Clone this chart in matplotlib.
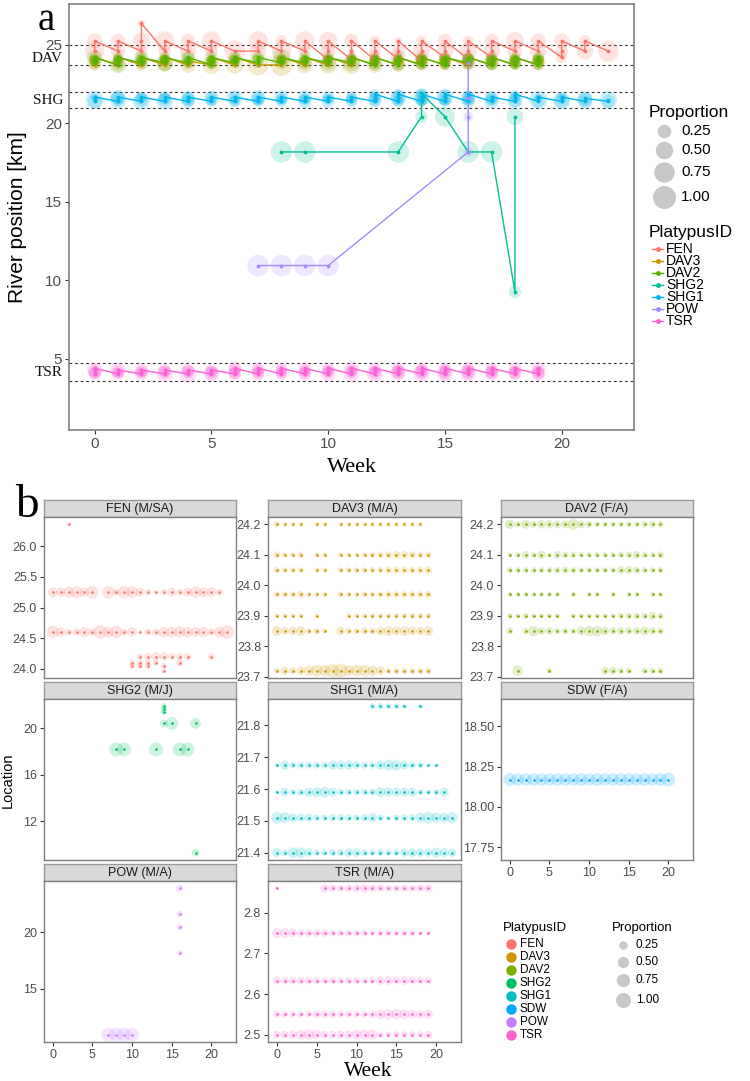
import matplotlib
matplotlib.use("Agg")
import matplotlib.pyplot as plt
import matplotlib.transforms as mtransforms
from matplotlib.lines import Line2D
import numpy as np

plt.rcParams['font.family'] = ['Liberation Sans', 'DejaVu Sans']
SERIF = ['Liberation Serif', 'DejaVu Serif']

# ---------------- data ----------------
ids_a = ["FEN", "DAV3", "DAV2", "SHG2", "SHG1", "POW", "TSR"]
colors_a = ["#F8766D", "#C49A00", "#53B400", "#00C094", "#00B6EB", "#A58AFF", "#FB61D7"]
ids_b = ["FEN", "DAV3", "DAV2", "SHG2", "SHG1", "SDW", "POW", "TSR"]
colors_b = ["#F8766D", "#CD9600", "#7CAE00", "#00BE67", "#00BFC4", "#00A9FF", "#C77CFF", "#FF61CC"]
facet_titles = ["FEN (M/SA)", "DAV3 (M/A)", "DAV2 (F/A)", "SHG2 (M/J)", "SHG1 (M/A)",
                "SDW (F/A)", "POW (M/A)", "TSR (M/A)"]

fen_loc = [26.36, 25.25, 24.60, 24.20, 24.10, 24.05, 23.97]
fen_weeks = [[2],
             [0, 1, 2, 3, 4, 5, 7, 8, 9, 10, 11, 12, 13, 14, 15, 16, 17, 18, 19, 20, 21],
             [0, 1, 2, 3, 4, 5, 6, 7, 8, 9, 10, 11, 12, 13, 14, 15, 16, 17, 18, 19, 20, 21, 22],
             [11, 12, 13, 14, 15, 16, 17, 20],
             [10, 11, 12, 13, 16],
             [10, 11, 12, 14],
             [14]]
fen_prop = [[0.03],
            [0.35, 0.3, 0.5, 0.65, 0.3, 0.65, 0.65, 0.15, 0.65, 0.55, 0.3, 0.12, 0.03, 0.12, 0.3, 0.12, 0.3, 0.55, 0.35, 0.35, 0.15],
            [0.65, 0.35, 0.15, 0.2, 0.45, 0.2, 0.8, 0.45, 0.65, 0.15, 0.35, 0.03, 0.15, 0.2, 0.45, 0.45, 0.5, 0.45, 0.35, 0.45, 0.2, 0.45, 0.8],
            [0.12, 0.2, 0.3, 0.25, 0.15, 0.15, 0.2, 0.15],
            [0.1, 0.1, 0.1, 0.1, 0.15],
            [0.1, 0.1, 0.1, 0.1],
            [0.05]]

dav3_loc = [24.20, 24.10, 24.05, 23.97, 23.90, 23.85, 23.72]
dav3_weeks = [[0, 1, 2, 3, 5, 6, 8, 9, 10, 11, 12, 13, 14, 15, 16, 17, 18],
              [0, 1, 2, 3, 5, 6, 8, 9, 10, 11, 12, 13, 14, 15, 16, 17, 18, 19],
              [0, 1, 2, 3, 5, 6, 8, 9, 10, 11, 12, 13, 14, 15, 16, 17, 18, 19],
              [0, 1, 2, 3, 4, 5, 6, 8, 9, 10, 11, 12, 13, 14, 15, 16, 17, 18, 19],
              [0, 1, 2, 3, 5, 9, 10, 11, 12, 13, 14, 15, 16, 17, 18, 19],
              [0, 1, 2, 3, 4, 5, 6, 8, 9, 10, 11, 12, 13, 14, 15, 16, 17, 18, 19],
              [0, 1, 2, 3, 4, 5, 6, 7, 8, 9, 10, 11, 12, 13, 14, 15, 16, 17, 18, 19]]
dav3_prop = [[0.12, 0.05, 0.05, 0.05, 0.05, 0.05, 0.05, 0.05, 0.05, 0.05, 0.05, 0.05, 0.05, 0.05, 0.05, 0.05, 0.05],
             [0.15, 0.08, 0.08, 0.1, 0.05, 0.05, 0.08, 0.05, 0.05, 0.08, 0.08, 0.1, 0.15, 0.18, 0.18, 0.15, 0.1, 0.12],
             [0.12, 0.08, 0.08, 0.08, 0.05, 0.05, 0.08, 0.08, 0.08, 0.08, 0.1, 0.1, 0.15, 0.15, 0.15, 0.12, 0.15, 0.18],
             [0.1, 0.1, 0.1, 0.15, 0.05, 0.05, 0.05, 0.08, 0.05, 0.05, 0.08, 0.08, 0.1, 0.12, 0.12, 0.12, 0.12, 0.12, 0.15],
             [0.06, 0.06, 0.06, 0.06, 0.05, 0.05, 0.06, 0.06, 0.06, 0.06, 0.06, 0.08, 0.08, 0.1, 0.1, 0.1],
             [0.35, 0.2, 0.25, 0.35, 0.1, 0.12, 0.05, 0.25, 0.12, 0.1, 0.15, 0.15, 0.3, 0.35, 0.3, 0.35, 0.3, 0.25, 0.35],
             [0.08, 0.25, 0.15, 0.25, 0.4, 0.55, 0.5, 0.8, 0.85, 0.45, 0.5, 0.55, 0.4, 0.25, 0.08, 0.1, 0.1, 0.1, 0.1, 0.1]]

dav2_loc = [24.20, 24.10, 24.05, 23.97, 23.90, 23.85, 23.72]
dav2_weeks = [[0, 1, 2, 3, 4, 5, 6, 7, 8, 9, 10, 11, 12, 13, 14, 15, 16, 17, 18, 19],
              [0, 1, 2, 3, 4, 5, 6, 7, 8, 9, 10, 11, 12, 13, 14, 15, 16, 17, 18, 19],
              [0, 1, 2, 3, 4, 5, 6, 7, 8, 9, 10, 11, 12, 13, 14, 15, 16, 17, 18, 19],
              [0, 1, 2, 3, 4, 5, 6, 8, 10, 11, 13, 15, 16, 18, 19],
              [0, 1, 2, 3, 4, 5, 6, 8, 9, 10, 11, 12, 13, 14, 15, 16, 17, 18, 19],
              [0, 2, 3, 4, 5, 6, 7, 8, 9, 10, 11, 12, 13, 14, 15, 16, 17, 18, 19],
              [1, 5, 12, 13, 14, 15, 17, 18, 19]]
dav2_prop = [[0.35, 0.12, 0.3, 0.15, 0.25, 0.25, 0.2, 0.2, 0.5, 0.2, 0.15, 0.08, 0.08, 0.08, 0.08, 0.08, 0.08, 0.12, 0.15, 0.15],
             [0.05, 0.08, 0.2, 0.08, 0.25, 0.05, 0.2, 0.12, 0.12, 0.08, 0.08, 0.08, 0.08, 0.08, 0.1, 0.12, 0.2, 0.12, 0.08, 0.15],
             [0.1, 0.1, 0.1, 0.1, 0.1, 0.1, 0.12, 0.15, 0.1, 0.08, 0.08, 0.08, 0.08, 0.08, 0.2, 0.2, 0.15, 0.1, 0.08, 0.1],
             [0.05, 0.05, 0.05, 0.05, 0.05, 0.05, 0.05, 0.05, 0.05, 0.05, 0.05, 0.05, 0.05, 0.05, 0.05],
             [0.08, 0.06, 0.1, 0.06, 0.06, 0.06, 0.06, 0.06, 0.06, 0.06, 0.06, 0.06, 0.06, 0.1, 0.12, 0.12, 0.12, 0.2, 0.12],
             [0.15, 0.12, 0.45, 0.2, 0.2, 0.12, 0.12, 0.1, 0.3, 0.4, 0.45, 0.25, 0.15, 0.2, 0.15, 0.2, 0.3, 0.15, 0.15],
             [0.45, 0.08, 0.2, 0.2, 0.1, 0.1, 0.12, 0.1, 0.1]]

shg2_loc = [9.28, 18.18, 20.43, 21.40, 21.67, 21.90]
shg2_weeks = [[18], [8, 9, 13, 16, 17], [14, 15, 18], [14], [14], [14]]
shg2_prop = [[0.2], [0.85, 0.85, 0.85, 0.85, 0.85], [0.2, 0.7, 0.45], [0.1], [0.1], [0.1]]

shg1_loc = [21.40, 21.51, 21.59, 21.675, 21.86]
shg1_weeks = [[0, 1, 2, 3, 4, 5, 6, 7, 8, 9, 10, 11, 12, 13, 14, 15, 16, 17, 18, 19, 20, 21, 22],
              [0, 1, 2, 3, 4, 5, 6, 7, 8, 9, 10, 11, 12, 13, 14, 15, 16, 17, 18, 19, 20, 21, 22],
              [0, 1, 2, 3, 4, 5, 6, 7, 8, 9, 10, 11, 12, 13, 14, 15, 16, 17, 18, 19, 20, 21],
              [0, 1, 2, 3, 4, 5, 6, 7, 8, 9, 10, 11, 12, 13, 14, 15, 16, 17, 18, 19, 20],
              [12, 13, 14, 15, 16, 18]]
shg1_prop = [[0.3, 0.12, 0.45, 0.45, 0.25, 0.12, 0.12, 0.15, 0.15, 0.25, 0.25, 0.15, 0.12, 0.15, 0.12, 0.12, 0.25, 0.3, 0.25, 0.25, 0.4, 0.3, 0.25],
             [0.55, 0.45, 0.3, 0.25, 0.25, 0.12, 0.12, 0.15, 0.15, 0.15, 0.12, 0.2, 0.3, 0.12, 0.03, 0.12, 0.15, 0.15, 0.35, 0.55, 0.4, 0.35, 0.5],
             [0.03, 0.25, 0.12, 0.15, 0.3, 0.35, 0.45, 0.3, 0.15, 0.12, 0.12, 0.12, 0.15, 0.4, 0.3, 0.3, 0.3, 0.3, 0.12, 0.05, 0.12, 0.3],
             [0.03, 0.3, 0.12, 0.15, 0.15, 0.15, 0.15, 0.3, 0.3, 0.3, 0.2, 0.15, 0.15, 0.3, 0.45, 0.45, 0.25, 0.15, 0.12, 0.03, 0.03],
             [0.12, 0.12, 0.1, 0.1, 0.05, 0.05]]

sdw_loc = [18.17]
sdw_weeks = [[0, 1, 2, 3, 4, 5, 6, 7, 8, 9, 10, 11, 12, 13, 14, 15, 16, 17, 18, 19, 20]]
sdw_prop = [[0.7, 0.65, 0.65, 0.7, 0.65, 0.65, 0.7, 0.65, 0.65, 0.7, 0.65, 0.7, 0.65, 0.65, 0.7, 0.65, 0.65, 0.7, 0.65, 0.7, 0.85]]

pow_loc = [10.95, 18.18, 20.42, 21.60, 23.87]
pow_weeks = [[7, 8, 9, 10], [16], [16], [16], [16]]
pow_prop = [[0.85, 0.85, 0.85, 0.85], [0.1], [0.1], [0.1], [0.2]]

tsr_loc = [2.50, 2.55, 2.633, 2.75, 2.86]
# river position (km) of the same TSR locations as drawn in panel a
tsr_river_km = [4.05, 4.10, 4.18, 4.30, 4.41]
tsr_weeks = [[0, 1, 2, 3, 4, 5, 6, 7, 8, 9, 10, 11, 12, 13, 14, 15, 16, 17, 18, 19],
             [0, 1, 2, 3, 4, 5, 6, 7, 8, 9, 10, 11, 12, 13, 14, 15, 16, 17, 18, 19],
             [0, 1, 2, 3, 4, 5, 6, 7, 8, 9, 10, 11, 12, 13, 14, 15, 16, 17, 18, 19],
             [0, 1, 2, 3, 4, 5, 6, 7, 8, 9, 10, 11, 12, 13, 14, 15, 16, 17, 18, 19],
             [0, 6, 7, 8, 9, 10, 11, 12, 13, 14, 15, 16, 17, 18, 19]]
tsr_prop = [[0.2, 0.2, 0.25, 0.4, 0.5, 0.35, 0.2, 0.2, 0.2, 0.25, 0.35, 0.4, 0.4, 0.12, 0.12, 0.15, 0.15, 0.15, 0.15, 0.2],
            [0.15, 0.12, 0.12, 0.12, 0.1, 0.25, 0.2, 0.2, 0.15, 0.15, 0.12, 0.12, 0.2, 0.35, 0.45, 0.45, 0.4, 0.3, 0.25, 0.3],
            [0.2, 0.2, 0.2, 0.2, 0.2, 0.15, 0.15, 0.15, 0.12, 0.15, 0.15, 0.12, 0.15, 0.25, 0.25, 0.2, 0.25, 0.2, 0.2, 0.2],
            [0.35, 0.35, 0.25, 0.2, 0.2, 0.2, 0.2, 0.15, 0.15, 0.15, 0.12, 0.12, 0.08, 0.12, 0.15, 0.1, 0.12, 0.12, 0.05, 0.03],
            [0.03, 0.25, 0.2, 0.15, 0.2, 0.2, 0.3, 0.2, 0.2, 0.15, 0.15, 0.2, 0.15, 0.2, 0.25]]

individuals = {
    "FEN": (fen_loc, fen_weeks, fen_prop),
    "DAV3": (dav3_loc, dav3_weeks, dav3_prop),
    "DAV2": (dav2_loc, dav2_weeks, dav2_prop),
    "SHG2": (shg2_loc, shg2_weeks, shg2_prop),
    "SHG1": (shg1_loc, shg1_weeks, shg1_prop),
    "SDW": (sdw_loc, sdw_weeks, sdw_prop),
    "POW": (pow_loc, pow_weeks, pow_prop),
    "TSR": (tsr_loc, tsr_weeks, tsr_prop),
}
individuals_a = dict(individuals)
individuals_a["TSR"] = (tsr_river_km, tsr_weeks, tsr_prop)

site_names = ["DAV", "SHG", "TSR"]
site_label_y = [24.1, 21.45, 4.15]
site_bounds = [25.0, 23.7, 22.0, 21.0, 4.75, 3.6]

week_ticks = [0, 5, 10, 15, 20]
a_yticks = [5, 10, 15, 20, 25]
legend_props = [0.25, 0.50, 0.75, 1.00]
legend_prop_labels = ["0.25", "0.50", "0.75", "1.00"]

facet_yticks = {
    "FEN": [24.0, 24.5, 25.0, 25.5, 26.0],
    "DAV3": [23.7, 23.8, 23.9, 24.0, 24.1, 24.2],
    "DAV2": [23.7, 23.8, 23.9, 24.0, 24.1, 24.2],
    "SHG2": [12, 16, 20],
    "SHG1": [21.4, 21.5, 21.6, 21.7, 21.8],
    "SDW": [17.75, 18.00, 18.25, 18.50],
    "POW": [15, 20],
    "TSR": [2.5, 2.6, 2.7, 2.8],
}
facet_fmt = {"FEN": "%.1f", "DAV3": "%.1f", "DAV2": "%.1f", "SHG2": "%d", "SHG1": "%.1f",
             "SDW": "%.2f", "POW": "%d", "TSR": "%.1f"}

# ---------------- figure ----------------
W, H, DPI = 750, 1081, 100
fig = plt.figure(figsize=(W / DPI, H / DPI), dpi=DPI)
fig.patch.set_facecolor("white")

TXT = "#4D4D4D"
BORDER = "#7F7F7F"


def add_ax(l, t, r, b):
    return fig.add_axes([l / W, 1 - b / H, (r - l) / W, (b - t) / H])


def fx(x):
    return x / W


def fy(y):
    return 1 - y / H


def s_of(d):
    return (np.asarray(d, dtype=float) * 72.0 / DPI) ** 2


def d_a(p):
    return 4 + 19 * np.sqrt(np.asarray(p, dtype=float))


def d_b(p):
    return 2 + 13 * np.sqrt(np.asarray(p, dtype=float))


def points(name, source):
    locs, weeks, props = source[name]
    rows = []
    for loc, ws, ps in zip(locs, weeks, props):
        for w, p in zip(ws, ps):
            rows.append((w, loc, p))
    rows.sort()
    return np.array(rows)


# ---------------- panel a ----------------
axa = add_ax(69, 4, 634, 430)
axa.set_xlim(-1.1, 23.1)
axa.set_ylim(0.48, 27.6)
for yb in site_bounds:
    axa.axhline(yb, color="#333333", lw=0.8, ls=(0, (2.5, 2.5)), zorder=1)
for name, col in zip(ids_a, colors_a):
    pts = points(name, individuals_a)
    axa.scatter(pts[:, 0], pts[:, 1], s=s_of(d_a(pts[:, 2])), color=col, alpha=0.2,
                linewidths=0, zorder=2)
for name, col in zip(ids_a, colors_a):
    pts = points(name, individuals_a)
    axa.plot(pts[:, 0], pts[:, 1], color=col, lw=1.0, zorder=3)
    axa.scatter(pts[:, 0], pts[:, 1], s=s_of(3.8), color=col, linewidths=0, zorder=4)
axa.set_xticks(week_ticks)
axa.set_yticks(a_yticks)
axa.tick_params(axis="both", colors="#333333", length=3, width=0.8, labelsize=11,
                labelcolor=TXT, pad=2)
for sp in axa.spines.values():
    sp.set_color(BORDER)
    sp.set_linewidth(1.2)

trans = mtransforms.blended_transform_factory(fig.transFigure, axa.transData)
for nm, yv in zip(site_names, site_label_y):
    axa.text(fx(63), yv, nm, transform=trans, ha="right", va="center",
             family=SERIF, fontsize=11, color="#111111", clip_on=False)

fig.text(fx(18), fy(217), "River position [km]", rotation=90, ha="center", va="center",
         fontsize=15, color="black")
fig.text(fx(352), fy(467), "Week", ha="center", va="center", family=SERIF, fontsize=16)
fig.text(fx(46), fy(20), "a", ha="center", va="center", family=SERIF, fontsize=28)

# legend a: Proportion
fig.text(fx(649), fy(113), "Proportion", ha="left", va="center", fontsize=12.5)
for p, lab, yy in zip(legend_props, legend_prop_labels, [131, 150, 172, 197]):
    fig.add_artist(Line2D([fx(664)], [fy(yy)], marker="o", ls="none",
                          markersize=d_a(p) * 72 / DPI, markerfacecolor="#C8C8C8",
                          markeredgewidth=0, transform=fig.transFigure))
    fig.text(fx(681), fy(yy), lab, ha="left", va="center", fontsize=11)
fig.text(fx(649), fy(233), "PlatypusID", ha="left", va="center", fontsize=12.5)
for i, (name, col) in enumerate(zip(ids_a, colors_a)):
    yy = 249 + 12 * i
    fig.add_artist(Line2D([fx(652), fx(663)], [fy(yy), fy(yy)], color=col, lw=1.0,
                          transform=fig.transFigure))
    fig.add_artist(Line2D([fx(657.5)], [fy(yy)], marker="o", ls="none", markersize=2.5,
                          color=col, transform=fig.transFigure))
    fig.text(fx(666), fy(yy), name, ha="left", va="center", fontsize=10)

# ---------------- panel b ----------------
cols_px = [(44, 236), (268, 461), (501, 693)]
rows_px = [(500, 517, 678), (682, 699, 860), (864, 881, 1042)]
facet_pos = [(0, 0), (0, 1), (0, 2), (1, 0), (1, 1), (1, 2), (2, 0), (2, 1)]
bottom_facets = {"SDW", "POW", "TSR"}

for name, col, title, (ri, ci) in zip(ids_b, colors_b, facet_titles, facet_pos):
    l, r = cols_px[ci]
    st, pt, pb = rows_px[ri]
    sax = add_ax(l, st, r, pt)
    sax.set_facecolor("#D9D9D9")
    sax.set_xticks([])
    sax.set_yticks([])
    for sp in sax.spines.values():
        sp.set_color("#9A9A9A")
        sp.set_linewidth(1.0)
    sax.text(0.5, 0.45, title, transform=sax.transAxes, ha="center", va="center",
             fontsize=9, color="#1A1A1A")
    ax = add_ax(l, pt, r, pb)
    pts = points(name, individuals)
    ax.scatter(pts[:, 0], pts[:, 1], s=s_of(d_b(pts[:, 2])), color=col, alpha=0.2,
               linewidths=0, zorder=2)
    ax.scatter(pts[:, 0], pts[:, 1], s=s_of(2.6), color=col, linewidths=0, zorder=3)
    lo, hi = pts[:, 1].min(), pts[:, 1].max()
    if hi - lo < 1e-9:
        lo, hi = lo - 0.5, hi + 0.5
    else:
        e = 0.05 * (hi - lo)
        lo, hi = lo - e, hi + e
    ax.set_ylim(lo, hi)
    ax.set_xlim(-1.1, 23.1)
    ax.set_yticks(facet_yticks[name])
    ax.set_yticklabels([facet_fmt[name] % v for v in facet_yticks[name]])
    ax.set_xticks(week_ticks)
    if name in bottom_facets:
        ax.tick_params(axis="x", colors="#333333", length=3, width=0.8, labelsize=9,
                       labelcolor=TXT, pad=2)
    else:
        ax.tick_params(axis="x", length=0, labelbottom=False)
    ax.tick_params(axis="y", colors="#333333", length=3, width=0.8, labelsize=9,
                   labelcolor=TXT, pad=2)
    for sp in ax.spines.values():
        sp.set_color(BORDER)
        sp.set_linewidth(1.0)

fig.text(fx(8), fy(780), "Location", rotation=90, ha="center", va="center", fontsize=10.5)
fig.text(fx(368), fy(1071), "Week", ha="center", va="center", family=SERIF, fontsize=15.5)
fig.text(fx(27), fy(506), "b", ha="center", va="center", family=SERIF, fontsize=34)

# legend b
fig.text(fx(503), fy(928), "PlatypusID", ha="left", va="center", fontsize=9.5)
for i, (name, col) in enumerate(zip(ids_b, colors_b)):
    yy = 944 + 13 * i
    fig.add_artist(Line2D([fx(511)], [fy(yy)], marker="o", ls="none", markersize=7.5,
                          markerfacecolor=col, markeredgewidth=0, transform=fig.transFigure))
    fig.text(fx(520), fy(yy), name, ha="left", va="center", fontsize=8.5)
fig.text(fx(612), fy(928), "Proportion", ha="left", va="center", fontsize=9.5)
for p, lab, yy in zip(legend_props, legend_prop_labels, [945, 962, 980, 1000]):
    fig.add_artist(Line2D([fx(623)], [fy(yy)], marker="o", ls="none",
                          markersize=d_b(p) * 72 / DPI, markerfacecolor="#C8C8C8",
                          markeredgewidth=0, transform=fig.transFigure))
    fig.text(fx(636), fy(yy), lab, ha="left", va="center", fontsize=8.5)

fig.savefig("out.png", dpi=DPI, facecolor="white")
